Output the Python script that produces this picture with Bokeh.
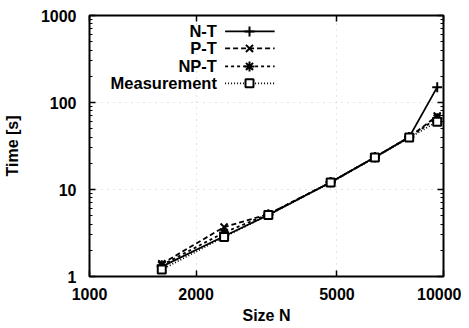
from bokeh.plotting import figure
from bokeh.models import Range1d, LogAxis, FixedTicker, CustomLabelingPolicy
from bokeh.core.properties import value
from bokeh.embed import file_html
from bokeh.resources import INLINE

sizes = [1600, 2400, 3200, 4800, 6400, 8000, 9600]
n_t = [1.3, 2.9, 5.1, 12.1, 23.5, 40, 150]
p_t = [1.4, 3.7, 5.2, 12.1, 23.5, 40, 70]
np_t = [1.35, 3.2, 5.2, 12.1, 23.5, 40, 66]
measurement = [1.2, 2.85, 5.1, 12.0, 23.3, 39.5, 60]

x_ticks = [1000, 2000, 5000, 10000]
x_tick_labels = ["1000", "2000", "5000", "10000"]
y_ticks = [1, 10, 100, 1000]
y_tick_labels = ["1", "10", "100", "1000"]
y_minor = [m * d for d in (1, 10, 100) for m in range(2, 10)]

series_names = ["N-T", "P-T", "NP-T", "Measurement"]
series_values = [n_t, p_t, np_t, measurement]
dashes = ["solid", "5 3", "3 3", "1 2"]
markers = ["cross", "x", "asterisk", "square"]

FONT = "Liberation Sans"

p = figure(width=461, height=328, x_axis_type="log", y_axis_type="log",
           x_range=Range1d(1000, 10000), y_range=Range1d(1, 1000),
           output_backend="svg", toolbar_location=None,
           min_border_left=87, min_border_right=18, min_border_top=15, min_border_bottom=52)
p.background_fill_color = "white"
p.border_fill_color = "white"
p.outline_line_color = "black"
p.outline_line_width = 2

xt = FixedTicker(ticks=x_ticks, minor_ticks=[])
yt = FixedTicker(ticks=y_ticks, minor_ticks=y_minor)

def style_axis(ax, labels_on):
    ax.axis_line_color = None
    ax.major_tick_in = 6
    ax.major_tick_out = 0
    ax.minor_tick_in = 3
    ax.minor_tick_out = 0
    ax.major_tick_line_width = 1.5
    ax.minor_tick_line_width = 1.2
    if labels_on:
        ax.major_label_text_font = FONT
        ax.major_label_text_font_style = "bold"
        ax.major_label_text_font_size = "16px"
        ax.major_label_text_color = "black"
        ax.axis_label_text_font = FONT
        ax.axis_label_text_font_style = "bold"
        ax.axis_label_text_font_size = "16px"
        ax.axis_label_text_color = "black"
    else:
        ax.major_label_text_font_size = "1px"
        ax.major_label_standoff = 0
        ax.major_label_policy = CustomLabelingPolicy(
            code="for (const i of indices) { if (false) yield i }")

xa = p.xaxis[0]
xa.ticker = xt
xa.major_label_overrides = dict(zip(x_ticks, x_tick_labels))
xa.axis_label = "Size N"
xa.major_label_standoff = 11
xa.axis_label_standoff = 4
style_axis(xa, True)

ya = p.yaxis[0]
ya.ticker = yt
ya.major_label_overrides = dict(zip(y_ticks, y_tick_labels))
ya.axis_label = "Time [s]"
ya.major_label_standoff = 13
ya.axis_label_standoff = 17
style_axis(ya, True)

top = LogAxis(ticker=FixedTicker(ticks=x_ticks, minor_ticks=[]))
style_axis(top, False)
p.add_layout(top, "above")
right = LogAxis(ticker=FixedTicker(ticks=y_ticks, minor_ticks=y_minor))
style_axis(right, False)
p.add_layout(right, "right")

p.xgrid.ticker = xt
p.ygrid.ticker = yt
for g in (p.xgrid[0], p.ygrid[0]):
    g.grid_line_color = "#c8c8c8"
    g.grid_line_dash = "1 5"
    g.grid_line_width = 1

for vals, dash, mk in zip(series_values, dashes, markers):
    p.line(sizes, vals, line_color="black", line_width=1.8, line_dash=dash)
    if mk == "square":
        p.scatter(sizes, vals, marker=mk, size=8, line_color="black", line_width=2, fill_color="white")
    else:
        p.scatter(sizes, vals, marker=mk, size=10, line_color="black", line_width=2)

# legend (gnuplot style: right-aligned text, then sample), placed by frame fraction
def fx(f):
    return 10 ** (3 + f)

def fy(f):
    return 10 ** (3 * f)

row_fracs = [0.939, 0.874, 0.805, 0.74]
for name, dash, mk, rf in zip(series_names, dashes, markers, row_fracs):
    yv = fy(rf)
    p.text([fx(0.36)], [yv], text=[name], text_align="right", text_baseline="middle",
           text_font=value(FONT), text_font_style="bold", text_font_size="16.5px", text_color="black")
    p.line([fx(0.383), fx(0.523)], [yv, yv], line_color="black", line_width=1.8, line_dash=dash)
    if mk == "square":
        p.scatter([fx(0.452)], [yv], marker=mk, size=8, line_color="black", line_width=2, fill_color="white")
    else:
        p.scatter([fx(0.452)], [yv], marker=mk, size=10, line_color="black", line_width=2)

open("out.html", "w").write(file_html(p, INLINE))
